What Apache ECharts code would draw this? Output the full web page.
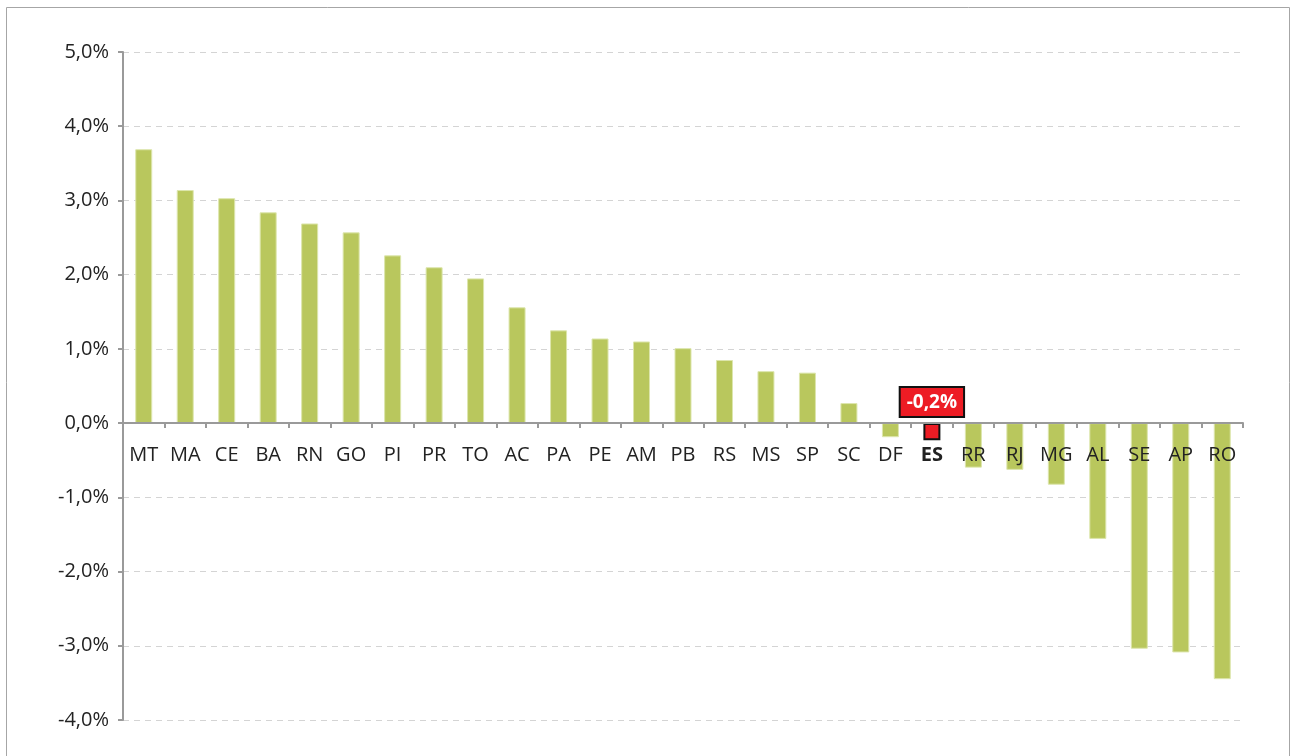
<!DOCTYPE html>
<html>
<head>
<meta charset="utf-8">
<script src="https://cdn.jsdelivr.net/npm/echarts@6/dist/echarts.min.js"></script>
<style>
html,body{margin:0;padding:0;background:#fff;}
#c{width:1292px;height:756px;}
</style>
</head>
<body>
<div id="c"></div>
<script>
const categories = ['MT','MA','CE','BA','RN','GO','PI','PR','TO','AC','PA','PE','AM','PB','RS','MS','SP','SC','DF','ES','RR','RJ','MG','AL','SE','AP','RO'];
const values = [3.69,3.14,3.03,2.84,2.69,2.57,2.26,2.10,1.95,1.56,1.25,1.14,1.10,1.01,0.85,0.70,0.68,0.27,-0.19,-0.23,-0.60,-0.63,-0.83,-1.56,-3.04,-3.09,-3.45];
const highlight = 'ES';
const highlightLabel = '-0,2%';
const yTicks = {min:-4, max:5, interval:1};

const gridTop = 52, gridBottom = 36, H = 756;
const plotH = H - gridTop - gridBottom;
// distance of the zero line above the grid bottom, from the axis range
const zeroOffset = plotH * (0 - yTicks.min) / (yTicks.max - yTicks.min);

const chart = echarts.init(document.getElementById('c'));
const font = 'Open Sans, Liberation Sans, sans-serif';
const data = values.map((v,i)=>{
  if (categories[i] === highlight) {
    return {
      value: v,
      itemStyle: {color:'#ed1c24', borderColor:'#111', borderWidth:2},
      label: {
        show: true, position: 'top', distance: 7,
        formatter: highlightLabel,
        color: '#fff', fontWeight: 'bold', fontSize: 19, fontFamily: font,
        backgroundColor: '#ed1c24', borderColor: '#111', borderWidth: 2,
        padding: [5, 6, 4, 6]
      }
    };
  }
  return v;
});
chart.setOption({
  animation: false,
  graphic: [{type:'rect', shape:{x:6.5,y:7.5,width:1283,height:770}, style:{fill:'none', stroke:'#a6a6a6', lineWidth:1}, silent:true}],
  grid: {left:123, right:49, top:gridTop, bottom:gridBottom},
  xAxis: {
    type: 'category', data: categories,
    offset: -zeroOffset,
    z: 10,
    axisLine: {onZero:false, lineStyle:{color:'#9a9a9a', width:2}},
    axisTick: {show:true, length:5, inside:false, lineStyle:{color:'#9a9a9a', width:2}},
    axisLabel: {
      margin: 22, fontSize: 20, color: '#222', fontFamily: font, interval: 0,
      formatter: v => v === highlight ? '{b|' + v + '}' : v,
      rich: {b: {fontWeight:'bold', fontSize:20, color:'#222', fontFamily: font}}
    }
  },
  yAxis: {
    type: 'value', min: yTicks.min, max: yTicks.max, interval: yTicks.interval,
    axisLine: {show:true, lineStyle:{color:'#9a9a9a', width:2}},
    axisTick: {show:true, length:5, lineStyle:{color:'#9a9a9a', width:2}},
    axisLabel: {fontSize:20, color:'#222', fontFamily: font, margin: 14,
      formatter: v => v.toFixed(1).replace('.', ',') + '%'},
    splitLine: {show:true, lineStyle:{color:'#d4d4d4', type:[6,5], width:1}}
  },
  series: [{
    type: 'bar', data: data, barWidth: 17, z: 2,
    itemStyle: {color:'#b9c75d', borderColor:'#dde6ad', borderWidth:1}
  }]
});
</script>
</body>
</html>
